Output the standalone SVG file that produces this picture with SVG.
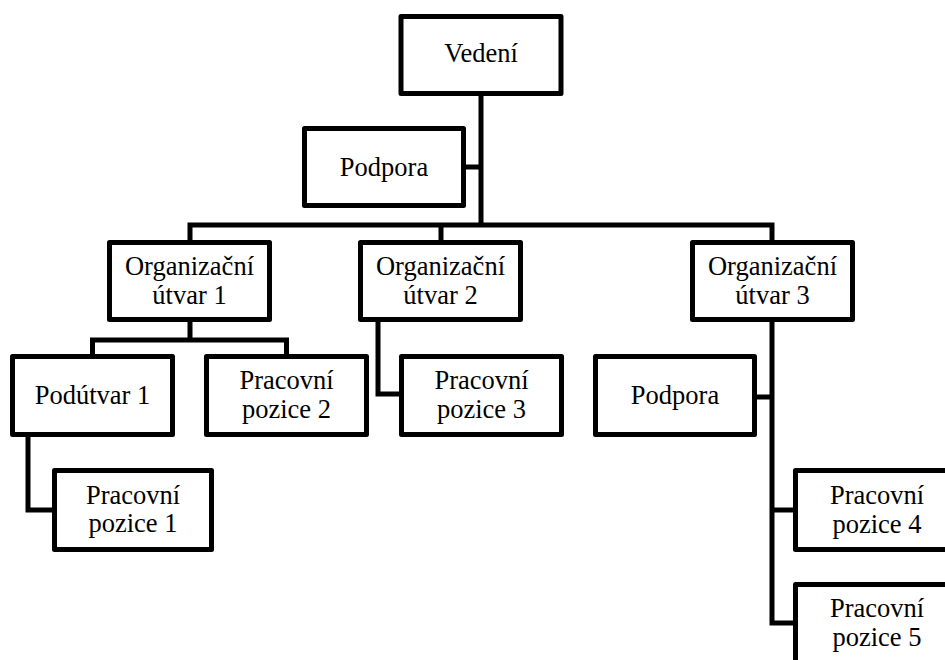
<svg xmlns="http://www.w3.org/2000/svg" width="945" height="660" viewBox="0 0 945 660">
  <style>
    .box { fill: #ffffff; stroke: #000000; stroke-width: 5; stroke-linejoin: round; }
    .wire { fill: none; stroke: #000000; stroke-width: 5; stroke-linejoin: miter; stroke-linecap: butt; }
    text { font-family: "Liberation Serif", "Times New Roman", serif; font-size: 26.5px; fill: #000000; text-anchor: middle; }
  </style>
  <rect width="945" height="660" fill="#ffffff"/>

  <!-- connectors -->
  <g id="connectors">
    <path class="wire" d="M481,94 V225"/>
    <path class="wire" d="M463,167 H481"/>
    <path class="wire" d="M190,243 V225 H772 V243"/>
    <path class="wire" d="M441,225 V243"/>
    <path class="wire" d="M190,319 V340"/>
    <path class="wire" d="M92.5,356 V340 H286.5 V356"/>
    <path class="wire" d="M378,319 V394 H401"/>
    <path class="wire" d="M772,319 V623 H795"/>
    <path class="wire" d="M755,397 H772"/>
    <path class="wire" d="M772,510 H795"/>
    <path class="wire" d="M28,434 V510 H54"/>
  </g>

  <!-- nodes -->
  <g id="vedeni">
    <rect class="box" x="401" y="16.5" width="160" height="77"/>
    <text x="481" y="62">Vedení</text>
  </g>
  <g id="podpora-vedeni">
    <rect class="box" x="304.5" y="128.5" width="159" height="77"/>
    <text x="384" y="176">Podpora</text>
  </g>
  <g id="utvar-1">
    <rect class="box" x="109.5" y="242.5" width="160" height="77"/>
    <text x="189.5" y="275">Organizační</text>
    <text x="189.5" y="304">útvar 1</text>
  </g>
  <g id="utvar-2">
    <rect class="box" x="360.5" y="242.5" width="160" height="77"/>
    <text x="440.5" y="275">Organizační</text>
    <text x="440.5" y="304">útvar 2</text>
  </g>
  <g id="utvar-3">
    <rect class="box" x="692.5" y="242.5" width="160" height="77"/>
    <text x="772.5" y="275">Organizační</text>
    <text x="772.5" y="304">útvar 3</text>
  </g>
  <g id="podutvar-1">
    <rect class="box" x="12.5" y="356.5" width="160" height="78"/>
    <text x="92.5" y="404">Podútvar 1</text>
  </g>
  <g id="pozice-2">
    <rect class="box" x="206.5" y="356.5" width="160" height="78"/>
    <text x="286.5" y="389">Pracovní</text>
    <text x="286.5" y="418">pozice 2</text>
  </g>
  <g id="pozice-3">
    <rect class="box" x="401.5" y="356.5" width="160" height="78"/>
    <text x="481.5" y="389">Pracovní</text>
    <text x="481.5" y="418">pozice 3</text>
  </g>
  <g id="podpora-utvar-3">
    <rect class="box" x="595.5" y="356.5" width="159" height="78"/>
    <text x="675" y="404">Podpora</text>
  </g>
  <g id="pozice-1">
    <rect class="box" x="54.5" y="470.5" width="157" height="79"/>
    <text x="133" y="504">Pracovní</text>
    <text x="133" y="532">pozice 1</text>
  </g>
  <g id="pozice-4">
    <rect class="box" x="795.5" y="470.5" width="160" height="79"/>
    <text x="877" y="504">Pracovní</text>
    <text x="877" y="533">pozice 4</text>
  </g>
  <g id="pozice-5">
    <rect class="box" x="795.5" y="584.5" width="160" height="79"/>
    <text x="877" y="617">Pracovní</text>
    <text x="877" y="646">pozice 5</text>
  </g>
</svg>
